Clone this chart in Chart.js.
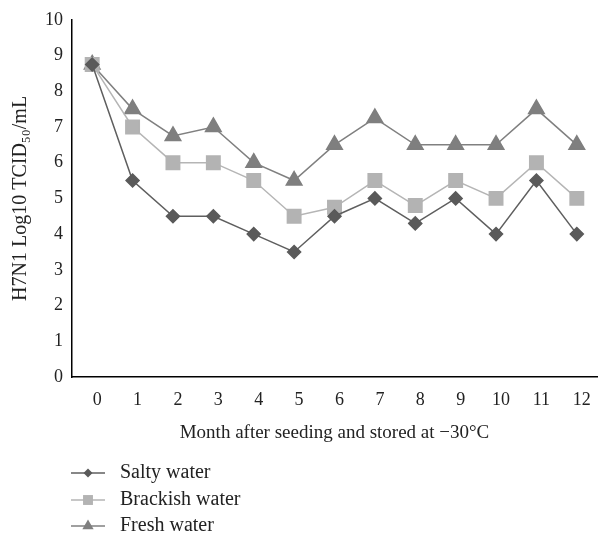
<!DOCTYPE html>
<html>
<head>
<meta charset="utf-8">
<script src="https://cdn.jsdelivr.net/npm/chart.js@4/dist/chart.umd.min.js"></script>
<style>
html,body{margin:0;padding:0;background:#fff;}
#wrap{width:608px;height:536px;position:relative;}
</style>
</head>
<body>
<div id="wrap"><canvas id="c" width="608" height="536"></canvas></div>
<script>
const months = ['0','1','2','3','4','5','6','7','8','9','10','11','12'];
const salty    = [8.75, 5.5, 4.5, 4.5, 4.0, 3.5, 4.5, 5.0, 4.3, 5.0, 4.0, 5.5, 4.0];
const brackish = [8.75, 7.0, 6.0, 6.0, 5.5, 4.5, 4.75, 5.5, 4.8, 5.5, 5.0, 6.0, 5.0];
const fresh    = [8.75, 7.5, 6.75, 7.0, 6.0, 5.5, 6.5, 7.25, 6.5, 6.5, 6.5, 7.5, 6.5];
const seriesNames = ['Salty water', 'Brackish water', 'Fresh water'];
const yTitle = 'H7N1 Log10 TCID\u2085\u2080/mL';
const xTitle = 'Month after seeding and stored at \u221230\u00b0C';

const FONT = "'Liberation Serif', 'DejaVu Serif', serif";

const legendPlugin = {
  id: 'customLegend',
  afterDraw(chart) {
    const ctx = chart.ctx;
    const rows = [473, 500, 526];
    const sizes = [4.5, 7, 6.5];
    chart.data.datasets.forEach((ds, i) => {
      const y = rows[i];
      ctx.save();
      ctx.strokeStyle = ds.borderColor;
      ctx.lineWidth = 1.5;
      ctx.beginPath();
      ctx.moveTo(71, y);
      ctx.lineTo(105, y);
      ctx.stroke();
      ctx.fillStyle = ds.pointBackgroundColor;
      ctx.strokeStyle = ds.pointBackgroundColor;
      Chart.helpers.drawPoint(ctx, {pointStyle: ds.pointStyle, radius: sizes[i], borderWidth: 0, rotation: 0}, 88, y);
      ctx.fillStyle = '#222';
      ctx.font = '20px ' + FONT;
      ctx.textBaseline = 'middle';
      ctx.textAlign = 'left';
      ctx.fillText(ds.label, 120, y);
      ctx.restore();
    });
  }
};

new Chart(document.getElementById('c'), {
  type: 'line',
  data: {
    labels: months,
    datasets: [
      {label: seriesNames[0], data: salty, borderColor: '#5f5f5f', backgroundColor: '#5a5a5a',
       pointBackgroundColor: '#5a5a5a', pointBorderColor: '#5a5a5a', pointStyle: 'rectRot', pointRadius: 6.5, borderWidth: 1.5},
      {label: seriesNames[1], data: brackish, borderColor: '#b5b5b5', backgroundColor: '#b3b3b3',
       pointBackgroundColor: '#b3b3b3', pointBorderColor: '#b3b3b3', pointStyle: 'rect', pointRadius: 9.5, borderWidth: 1.5},
      {label: seriesNames[2], data: fresh, borderColor: '#808080', backgroundColor: '#7f7f7f',
       pointBackgroundColor: '#7f7f7f', pointBorderColor: '#7f7f7f', pointStyle: 'triangle', pointRadius: 9, borderWidth: 1.5}
    ]
  },
  options: {
    responsive: false,
    animation: false,
    events: [],
    layout: {padding: {top: 10, right: 6, bottom: 92, left: 0}},
    plugins: {legend: {display: false}, tooltip: {enabled: false}},
    scales: {
      x: {
        offset: true,
        grid: {display: true, drawOnChartArea: false, drawTicks: false},
        border: {display: true, color: '#000', width: 1.5},
        ticks: {color: '#222', font: {family: FONT, size: 18}, padding: 12, labelOffset: 5, maxRotation: 0, autoSkip: false},
        title: {display: true, text: xTitle, color: '#222', font: {family: FONT, size: 19}, padding: {top: 6, bottom: 0}},
        afterFit(s) { s.height = 67; }
      },
      y: {
        min: 0, max: 10,
        grid: {display: true, drawOnChartArea: false, drawTicks: false},
        border: {display: true, color: '#000', width: 1.5},
        ticks: {stepSize: 1, color: '#222', font: {family: FONT, size: 18}, padding: 9},
        title: {display: true, text: yTitle, color: '#222', font: {family: FONT, size: 20}, padding: {top: 9, bottom: 0}},
        afterFit(s) { s.width = 72; }
      }
    }
  },
  plugins: [legendPlugin]
});
</script>
</body>
</html>
